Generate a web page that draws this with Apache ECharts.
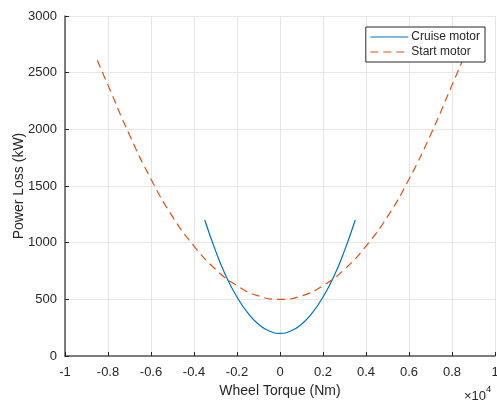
<!DOCTYPE html>
<html>
<head>
    <meta charset="utf-8">
    <title>Power Loss</title>
    <script src="https://cdn.jsdelivr.net/npm/echarts@6/dist/echarts.min.js"></script>
    <style>
        html, body { margin: 0; padding: 0; background: #fff; }
        #main { width: 497px; height: 402px; }
    </style>
</head>
<body>
    <div id="main"></div>
    <script type="text/javascript">
        // torque in units of 1e4 Nm, loss in kW
        var cruiseTorque = [-0.35, -0.3, -0.25, -0.2, -0.15, -0.1, -0.05, 0, 0.05, 0.1, 0.15, 0.2, 0.25, 0.3, 0.35];
        var cruiseLoss = [1200, 930, 700, 520, 380, 280, 220, 200, 220, 280, 380, 520, 700, 930, 1200];

        var startTorque = [-0.85, -0.8, -0.7, -0.6, -0.5, -0.4, -0.3, -0.2, -0.1, 0, 0.1, 0.2, 0.3, 0.4, 0.5, 0.6, 0.7, 0.8, 0.85];
        var startLoss = [2610, 2390, 1950, 1560, 1230, 970, 765, 620, 530, 500, 530, 620, 765, 970, 1230, 1560, 1950, 2390, 2610];

        var xTicks = { min: -1, max: 1, step: 0.2 };
        var yTicks = { min: 0, max: 3000, step: 500 };

        var font = 'Liberation Sans, Arial, Helvetica, sans-serif';
        var textColor = '#262626';

        function pairs(xs, ys) {
            return xs.map(function(x, i) { return [x, ys[i]]; });
        }

        var chart = echarts.init(document.getElementById('main'));
        var option = {
            animation: false,
            backgroundColor: '#fff',
            grid: { left: 65, right: 2, top: 16, bottom: 46, outerBoundsMode: 'none' },
            legend: {
                orient: 'vertical',
                right: 12,
                top: 27,
                padding: [4, 5, 4, 4],
                itemGap: 3,
                itemWidth: 38,
                itemHeight: 13,
                borderColor: '#262626',
                borderWidth: 1,
                backgroundColor: '#fff',
                itemStyle: { opacity: 0 },
                lineStyle: { width: 1 },
                textStyle: { fontFamily: font, fontSize: 12, color: textColor, padding: [0, 0, 0, -2] },
                data: ['Cruise motor', 'Start motor']
            },
            xAxis: {
                type: 'value',
                min: xTicks.min,
                max: xTicks.max,
                interval: xTicks.step,
                name: 'Wheel Torque (Nm)',
                nameLocation: 'middle',
                nameGap: 25,
                nameTextStyle: { fontFamily: font, fontSize: 14, color: textColor },
                axisLine: { onZero: false, lineStyle: { color: '#555', width: 1.5 } },
                axisTick: { inside: true, length: 4, lineStyle: { color: '#262626' } },
                axisLabel: {
                    fontFamily: font, fontSize: 13, color: textColor, margin: 10,
                    formatter: function(v) { return String(Math.round(v * 10) / 10); }
                },
                splitLine: { show: true, lineStyle: { color: '#e6e6e6', width: 1 } }
            },
            yAxis: {
                type: 'value',
                min: yTicks.min,
                max: yTicks.max,
                interval: yTicks.step,
                name: 'Power Loss (kW)',
                nameLocation: 'middle',
                nameGap: 39,
                nameMoveOverlap: false,
                nameTextStyle: { fontFamily: font, fontSize: 14, color: textColor },
                axisLine: { show: true, onZero: false, lineStyle: { color: '#555', width: 1.5 } },
                axisTick: { show: true, inside: true, length: 4, lineStyle: { color: '#262626' } },
                axisLabel: {
                    fontFamily: font, fontSize: 13, color: textColor, margin: 8,
                    formatter: function(v) { return String(v); }
                },
                splitLine: { show: true, lineStyle: { color: '#e6e6e6', width: 1 } }
            },
            graphic: [{
                type: 'text',
                left: 464,
                top: 384,
                style: {
                    text: '{a|\u00d710}{b|4}',
                    rich: {
                        a: { fontFamily: font, fontSize: 13, fill: textColor, padding: [6, 0, 0, 0] },
                        b: { fontFamily: font, fontSize: 9.5, fill: textColor, verticalAlign: 'top' }
                    }
                }
            }],
            series: [{
                name: 'Cruise motor',
                type: 'line',
                smooth: true,
                symbol: 'none',
                data: pairs(cruiseTorque, cruiseLoss),
                lineStyle: { color: '#0072BD', width: 1.2 },
                itemStyle: { color: '#0072BD' }
            }, {
                name: 'Start motor',
                type: 'line',
                smooth: true,
                symbol: 'none',
                data: pairs(startTorque, startLoss),
                lineStyle: { color: '#D95319', width: 1.2, type: [8, 5] },
                itemStyle: { color: '#D95319' }
            }]
        };
        chart.setOption(option);
    </script>
</body>
</html>
